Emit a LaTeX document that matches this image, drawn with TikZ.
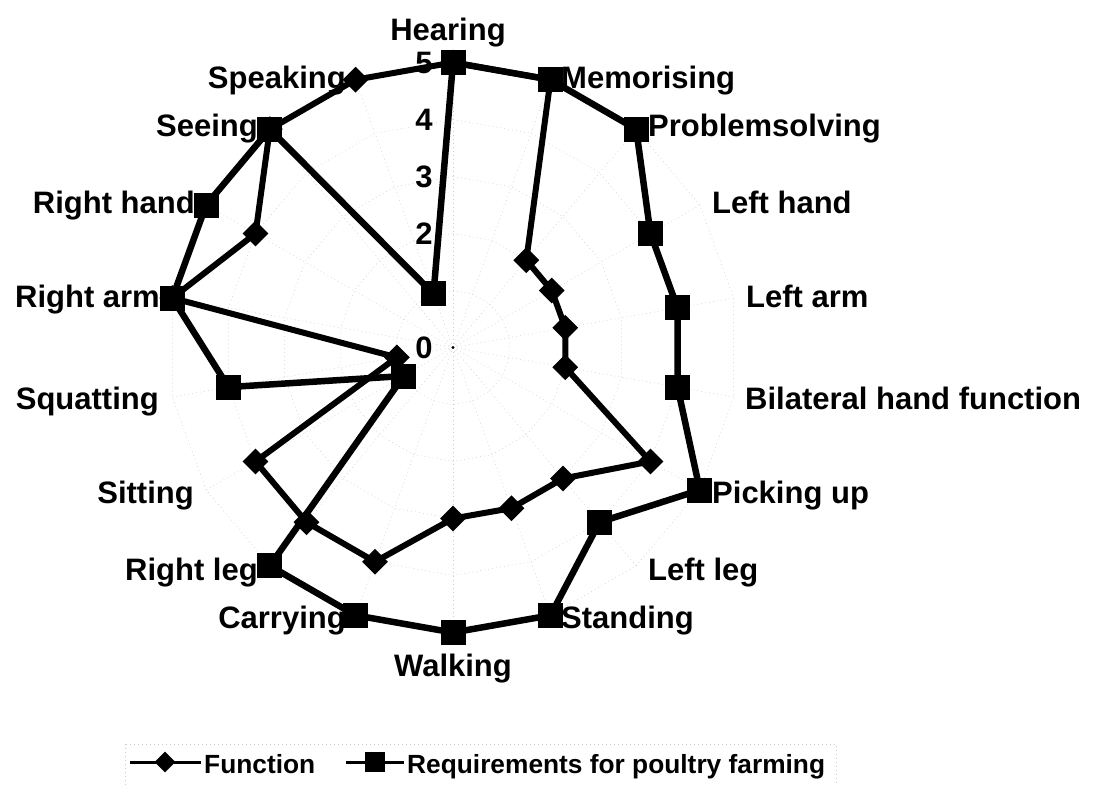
\documentclass[tikz,border=0pt]{standalone}
\usepackage{fontspec}
\setmainfont{Liberation Sans}
\usetikzlibrary{calc,shapes.geometric}

% scores per axis, clockwise from "Hearing"
\def\funcvals{5,5,2,2,2,2,4,3,3,3,4,4,4,1,5,4,5,5}
\def\reqvals{5,5,5,4,4,4,5,4,5,5,5,5,1,4,5,5,5,1}

\begin{document}
\begin{tikzpicture}[x=1pt,y=-1pt,
  every node/.style={font=\fontsize{31}{31}\selectfont\bfseries, inner sep=0pt},
  grid/.style={gray!40, line width=0.45pt, dash pattern=on 1pt off 3pt},
  fline/.style={line width=6pt, line join=round},
  rline/.style={line width=6.5pt, line join=round},
  fmark/.style={diamond, fill=black, minimum width=26pt, minimum height=26pt, inner sep=0pt},
  rmark/.style={rectangle, fill=black, minimum size=25pt, inner sep=0pt},
  legline/.style={line width=3pt},
  legtext/.style={font=\fontsize{26.3}{26.3}\selectfont\bfseries, anchor=base west},
]
\useasboundingbox (0,0) rectangle (1097,784);
\coordinate (C) at (453,347.5);

% radial grid: rings at 1..5 and 18 spokes
\foreach \v in {1,...,5} {
  \draw[grid] ($(C)+({-90}:{57*\v})$)
    \foreach \k in {1,...,17} { -- ($(C)+({20*\k-90}:{57*\v})$) } -- cycle;
}
\foreach \k in {0,...,17}
  \draw[grid] (C) -- ($(C)+({20*\k-90}:285)$);
\fill (C) circle (1.6);

% scale values
\foreach \v in {0,2,3,4,5}
  \node (tick\v) at (424,{347.5-57*\v}) {\v};

% axis labels
\node[anchor=base] (lab0) at (448,40.6) {Hearing};
\node[anchor=base west] (lab1) at (561,88.6) {Memorising};
\node[anchor=base west] (lab2) at (648,136.6) {Problemsolving};
\node[anchor=base west] (lab3) at (712,213.6) {Left hand};
\node[anchor=base west] (lab4) at (746,307.6) {Left arm};
\node[anchor=base west] (lab5) at (745,409.6) {Bilateral hand function};
\node[anchor=base west] (lab6) at (712,503.6) {Picking up};
\node[anchor=base west] (lab7) at (648,580.6) {Left leg};
\node[anchor=base west] (lab8) at (561,628.6) {Standing};
\node[anchor=base] (lab9) at (453,676.6) {Walking};
\node[anchor=base east] (lab10) at (346,628.6) {Carrying};
\node[anchor=base east] (lab11) at (258,580.6) {Right leg};
\node[anchor=base east] (lab12) at (194,503.6) {Sitting};
\node[anchor=base east] (lab13) at (159,409.6) {Squatting};
\node[anchor=base east] (lab14) at (160,307.6) {Right arm};
\node[anchor=base east] (lab15) at (195,213.6) {Right hand};
\node[anchor=base east] (lab16) at (258,136.6) {Seeing};
\node[anchor=base east] (lab17) at (346,88.6) {Speaking};

% data points
\foreach \v [count=\i from 0] in \funcvals
  \coordinate (f\i) at ($(C)+({20*\i-90}:{57*\v})$);
\foreach \v [count=\i from 0] in \reqvals
  \coordinate (r\i) at ($(C)+({20*\i-90}:{57*\v})$);

% series 1: Function
\draw[fline] (f0) \foreach \i in {1,...,17} { -- (f\i) } -- cycle;
\foreach \i in {0,...,17}
  \node[fmark] (fm\i) at (f\i) {};

% series 2: Requirements for poultry farming
\draw[rline] (r0) \foreach \i in {1,...,17} { -- (r\i) } -- cycle;
\foreach \i in {0,...,17}
  \node[rmark] (rm\i) at (r\i) {};

% legend
\draw[grid] (125,744) rectangle (836,800);
\coordinate (lfa) at (130,762);
\coordinate (lfb) at (201,762);
\draw[legline] (lfa) -- (lfb);
\node[fmark, minimum width=21pt, minimum height=21pt] (lfm) at (165,762) {};
\node[legtext] (lft) at (204,773) {Function};
\coordinate (lra) at (346,762);
\coordinate (lrb) at (404,762);
\draw[legline] (lra) -- (lrb);
\node[rmark, minimum size=20pt] (lrm) at (375,762) {};
\node[legtext] (lrt) at (407,773) {Requirements for poultry farming};
\end{tikzpicture}
\end{document}
